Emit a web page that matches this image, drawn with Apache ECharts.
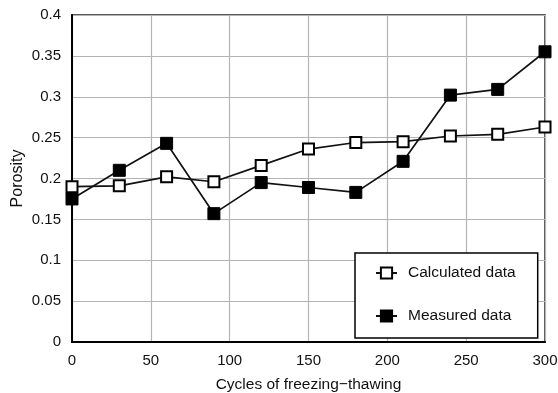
<!DOCTYPE html>
<html>
<head>
<meta charset="utf-8">
<script src="https://cdn.jsdelivr.net/npm/echarts@6/dist/echarts.min.js"></script>
<style>
  html, body { margin: 0; padding: 0; background: #fff; }
  #chart { width: 558px; height: 393px; }
</style>
</head>
<body>
<div id="chart"></div>
<script>
// cycles of freezing-thawing
const cycles = [0, 30, 60, 90, 120, 150, 180, 210, 240, 270, 300];
// porosity values
const calculated = [0.190, 0.191, 0.202, 0.196, 0.216, 0.236, 0.244, 0.245, 0.252, 0.254, 0.263];
const measured = [0.175, 0.210, 0.243, 0.157, 0.195, 0.189, 0.183, 0.221, 0.302, 0.309, 0.355];

const font = "Liberation Sans, Arial, sans-serif";
const chart = echarts.init(document.getElementById("chart"));

const pairs = (ys) => cycles.map((x, i) => [x, ys[i]]);

chart.setOption({
  animation: false,
  textStyle: { fontFamily: font },
  grid: {
    left: 72,
    right: 13,
    top: 15,
    bottom: 51,
    outerBoundsMode: "none",
    containLabel: false,
    show: true,
    borderColor: "#222",
    borderWidth: 1.5,
  },
  legend: {
    orient: "vertical",
    left: 355,
    top: 253,
    padding: [12, 22, 14, 20],
    itemGap: 27,
    itemWidth: 21,
    itemHeight: 14,
    borderColor: "#000",
    borderWidth: 1.5,
    backgroundColor: "#fff",
    textStyle: { fontSize: 15.5, color: "#111", padding: [0, 0, 0, 6] },
    data: ["Calculated data", "Measured data"],
  },
  xAxis: {
    type: "value",
    min: 0,
    max: 300,
    interval: 50,
    name: "Cycles of freezing\u2212thawing",
    nameLocation: "middle",
    nameGap: 35,
    nameMoveOverlap: false,
    nameTextStyle: { fontSize: 15.5, color: "#111" },
    axisLine: { lineStyle: { color: "#000", width: 2 } },
    axisTick: { show: false },
    axisLabel: { fontSize: 15, color: "#111", margin: 11 },
    splitLine: { lineStyle: { color: "#b4b4b4", width: 1.2 } },
  },
  yAxis: {
    type: "value",
    min: 0,
    max: 0.4,
    interval: 0.05,
    name: "Porosity",
    nameLocation: "middle",
    nameGap: 46,
    nameMoveOverlap: false,
    nameTextStyle: { fontSize: 16, color: "#111" },
    axisLine: { show: true, lineStyle: { color: "#000", width: 2 } },
    axisTick: { show: false },
    axisLabel: { fontSize: 15, color: "#111", margin: 11 },
    splitLine: { lineStyle: { color: "#b4b4b4", width: 1.2 } },
  },
  series: [
    {
      name: "Measured data",
      type: "line",
      data: pairs(measured),
      symbol: "rect",
      symbolSize: 12,
      lineStyle: { color: "#111", width: 1.7 },
      itemStyle: { color: "#000", borderColor: "#000", borderWidth: 1 },
      clip: false,
      z: 3,
    },
    {
      name: "Calculated data",
      type: "line",
      data: pairs(calculated),
      symbol: "rect",
      symbolSize: 11,
      lineStyle: { color: "#111", width: 1.7 },
      itemStyle: { color: "#fff", borderColor: "#000", borderWidth: 2 },
      clip: false,
      z: 4,
    },
  ],
});
</script>
</body>
</html>
